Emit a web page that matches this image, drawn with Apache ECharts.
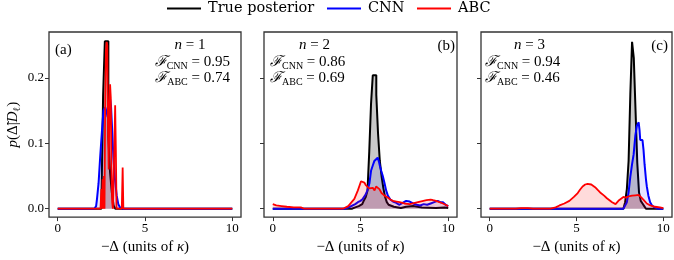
<!DOCTYPE html>
<html><head><meta charset="utf-8">
<script src="https://cdn.jsdelivr.net/npm/echarts@6/dist/echarts.min.js"></script>
<style>html,body{margin:0;padding:0;background:#fff}#c{width:674px;height:260px}</style>
</head><body><div id="c"></div>
<script>
// ---------- data (x in units of kappa, y = probability) ----------
const seriesNames = ['True posterior', 'CNN', 'ABC'];
const panelLabels = ['(a)', '(b)', '(c)'];
const panelN = [1, 2, 3];
const fidCNN = ['0.95', '0.86', '0.94'];
const fidABC = ['0.74', '0.69', '0.46'];
const xTicks = [0, 5, 10];
const yTicks = [0, 0.1, 0.2];

// True posterior histograms: [bin left edge, height]
const trueA = [[0,0],[2.5,0.005],[2.6,0.173],[2.7,0.256],[2.8,0.256],[2.9,0.11],[3.0,0.055],[3.1,0.025],[3.2,0.005],[3.3,0],[10,0]];
const trueB = [[0,0],[4.5,0.002],[4.7,0.003],[4.8,0.004],[4.9,0.005],[5.0,0.007],[5.1,0.01],[5.2,0.013],[5.3,0.018],[5.4,0.028],[5.5,0.088],[5.6,0.16],[5.7,0.204],[5.8,0.204],[5.9,0.174],[6.0,0.115],[6.1,0.073],[6.2,0.05],[6.3,0.032],[6.4,0.018],[6.5,0.01],[6.6,0.006],[6.7,0.003],[6.9,0.001],[7.3,0.003],[7.6,0.004],[8.0,0.002],[8.5,0.001],[9.3,0.002],[9.8,0.001],[10,0]];
const trueC = [[0,0],[7.7,0.002],[7.8,0.01],[7.9,0.03],[8.0,0.073],[8.1,0.175],[8.2,0.255],[8.3,0.23],[8.4,0.15],[8.5,0.07],[8.6,0.025],[8.7,0.012],[8.8,0.008],[8.9,0.004],[9.0,0],[10,0]];

// CNN posteriors
const cnnA = [[0,0],[2.1,0],[2.2,0.004],[2.25,0.015],[2.34,0.039],[2.43,0.078],[2.53,0.117],[2.62,0.15],[2.72,0.155],[2.8,0.148],[2.86,0.14],[2.93,0.158],[3.0,0.168],[3.05,0.158],[3.12,0.12],[3.19,0.078],[3.28,0.045],[3.38,0.02],[3.47,0.007],[3.57,0.002],[3.7,0],[10,0]];
const cnnB = [[0,0],[4.1,0],[4.4,0.003],[4.7,0.007],[4.85,0.01],[5.0,0.012],[5.13,0.015],[5.3,0.022],[5.42,0.03],[5.51,0.039],[5.6,0.058],[5.7,0.066],[5.79,0.073],[5.9,0.075],[5.98,0.078],[6.05,0.072],[6.1,0.066],[6.18,0.058],[6.27,0.05],[6.37,0.039],[6.46,0.028],[6.56,0.02],[6.7,0.014],[6.85,0.011],[7.04,0.009],[7.2,0.006],[7.4,0.009],[7.6,0.012],[7.8,0.011],[8.0,0.008],[8.2,0.006],[8.4,0.005],[8.6,0.007],[8.8,0.006],[9.0,0.008],[9.2,0.01],[9.4,0.012],[9.55,0.01],[9.7,0.01],[9.85,0.006],[10,0.004]];
const cnnC = [[0,0],[7.7,0],[7.78,0.002],[7.9,0.01],[8.0,0.025],[8.1,0.049],[8.2,0.068],[8.29,0.083],[8.39,0.112],[8.48,0.127],[8.58,0.132],[8.63,0.12],[8.67,0.105],[8.73,0.108],[8.8,0.105],[8.86,0.09],[8.92,0.068],[9.0,0.045],[9.05,0.034],[9.14,0.02],[9.24,0.01],[9.35,0.005],[9.5,0.002],[9.7,0],[10,0]];

// ABC posteriors
const abcA = [[0,0],[2.45,0],[2.5,0.03],[2.53,0],[2.57,0.045],[2.6,0],[2.64,0.05],[2.68,0],[2.72,0.17],[2.76,0.24],[2.8,0.255],[2.84,0.25],[2.88,0.13],[2.92,0.06],[2.96,0.15],[3.0,0.19],[3.04,0.17],[3.08,0.06],[3.12,0.01],[3.16,0],[3.2,0],[3.25,0.1],[3.29,0.158],[3.33,0.09],[3.37,0],[3.67,0],[3.72,0.063],[3.76,0],[10,0]];
const abcB = [[0,0.007],[0.2,0.005],[0.5,0.004],[0.8,0.003],[1.2,0.002],[1.6,0.002],[1.8,0],[4.0,0],[4.3,0.004],[4.65,0.015],[4.85,0.028],[5.03,0.042],[5.12,0.043],[5.22,0.04],[5.3,0.036],[5.41,0.034],[5.5,0.031],[5.6,0.029],[5.7,0.032],[5.8,0.028],[5.89,0.034],[6.0,0.031],[6.08,0.03],[6.2,0.024],[6.37,0.02],[6.55,0.017],[6.7,0.014],[6.85,0.012],[7.05,0.011],[7.23,0.01],[7.5,0.008],[7.8,0.007],[8.1,0.009],[8.4,0.011],[8.76,0.013],[9.0,0.014],[9.14,0.013],[9.3,0.012],[9.5,0.01],[9.7,0.008],[9.85,0.006],[10,0.004]];
const abcC = [[0,0],[1.5,0],[1.8,0.001],[2.2,0.001],[2.5,0],[3.5,0],[3.8,0.002],[4.02,0.005],[4.3,0.008],[4.59,0.012],[4.85,0.018],[5.07,0.024],[5.2,0.029],[5.35,0.034],[5.5,0.037],[5.64,0.038],[5.75,0.036],[5.85,0.037],[5.95,0.034],[6.11,0.032],[6.25,0.028],[6.4,0.024],[6.59,0.02],[6.75,0.016],[6.9,0.013],[7.05,0.01],[7.15,0.008],[7.25,0.007],[7.35,0.01],[7.45,0.013],[7.54,0.016],[7.7,0.018],[7.85,0.017],[8.0,0.019],[8.2,0.02],[8.39,0.0205],[8.58,0.021],[8.7,0.018],[8.85,0.014],[9.05,0.008],[9.25,0.005],[9.53,0.003],[9.8,0.002],[10,0.001]];

// ---------- chart ----------
const FONT = '"Liberation Serif", "DejaVu Serif", serif';
const LFONT = '"DejaVu Serif", serif';
const trueSets = [trueA, trueB, trueC];
const cnnSets = [cnnA, cnnB, cnnC];
const abcSets = [abcA, abcB, abcC];
const grids = [
  {left: 49, top: 32, width: 192, height: 193},
  {left: 264, top: 32, width: 193, height: 193},
  {left: 481, top: 32, width: 191, height: 193}
];
const rich = {
  i: {fontFamily: FONT, fontStyle: 'italic', fontSize: 15, lineHeight: 18},
  f: {fontFamily: FONT, fontStyle: 'italic', fontSize: 15, lineHeight: 18},
  s: {fontFamily: FONT, fontSize: 10, lineHeight: 10, verticalAlign: 'bottom'},
  t: {fontFamily: FONT, fontSize: 15, lineHeight: 18}
};

const xAxes = [], yAxes = [], series = [];
grids.forEach((g, k) => {
  xAxes.push({
    type: 'value', gridIndex: k, min: -0.5, max: 10.5,
    name: '{t|\u2212Δ (units of }{i|κ}{t|)}', nameLocation: 'middle', nameGap: 19,
    nameTextStyle: {fontFamily: FONT, fontSize: 15, color: '#000', rich: rich},
    axisLine: {show: false, onZero: false}, splitLine: {show: false},
    axisTick: {show: true, customValues: xTicks, length: 4, lineStyle: {color: '#333', width: 1}},
    axisLabel: {customValues: xTicks, fontFamily: FONT, fontSize: 13, color: '#000', margin: 5}
  });
  yAxes.push({
    type: 'value', gridIndex: k, min: -0.0128, max: 0.27,
    name: k === 0 ? '{i|p}{t|(Δ̃|}{i|D}{s|ℓ}{t|)}' : '', nameLocation: 'middle', nameGap: 27, nameRotate: 90,
    nameTextStyle: {fontFamily: FONT, fontSize: 15, color: '#000', rich: rich},
    axisLine: {show: false, onZero: false}, splitLine: {show: false},
    axisTick: {show: true, customValues: yTicks, length: 4, lineStyle: {color: '#333', width: 1}},
    axisLabel: {show: k === 0, customValues: yTicks, fontFamily: FONT, fontSize: 13, color: '#000', margin: 5,
      formatter: v => v.toFixed(1)}
  });
  series.push({
    name: seriesNames[0], type: 'line', xAxisIndex: k, yAxisIndex: k, step: 'end',
    data: trueSets[k], showSymbol: false, symbol: 'none', color: '#000',
    lineStyle: {color: '#000', width: 2}, areaStyle: {color: 'rgba(0,0,0,0.3)', origin: 'auto'}, z: 2
  });
  series.push({
    name: seriesNames[1], type: 'line', xAxisIndex: k, yAxisIndex: k,
    data: cnnSets[k], showSymbol: false, symbol: 'none', color: '#0000ff',
    lineStyle: {color: '#0000ff', width: 2}, areaStyle: {color: 'rgba(0,0,255,0.14)', origin: 'auto'}, z: 3
  });
  series.push({
    name: seriesNames[2], type: 'line', xAxisIndex: k, yAxisIndex: k,
    data: abcSets[k], showSymbol: false, symbol: 'none', color: '#ff0000',
    lineStyle: {color: '#ff0000', width: 1.8}, areaStyle: {color: 'rgba(255,0,0,0.2)', origin: 'auto'}, z: 4
  });
});

const legendPos = [167, 327, 417];
const legends = seriesNames.map((nm, i) => ({
  data: [nm], left: legendPos[i], top: 1, padding: 0, itemWidth: 34, itemHeight: 2, icon: 'rect',
  selectedMode: false, textStyle: {fontFamily: LFONT, fontSize: 14.5, color: '#000', padding: [0, 0, 0, 2]}
}));

function txt(x, y, text, align) {
  return {type: 'text', x: x, y: y, silent: true,
    style: {text: text, rich: rich, fontFamily: FONT, fontSize: 15, fill: '#000', align: align, verticalAlign: 'middle'}};
}
const fRow = (v, name) => '{f|ℱ}{s|' + name + '}{t| = ' + v + '}';
const graphic = [
  txt(55, 50, '{t|' + panelLabels[0] + '}', 'left'),
  txt(190, 45, '{i|n}{t| = ' + panelN[0] + '}', 'center'),
  txt(230, 62, fRow(fidCNN[0], 'CNN'), 'right'),
  txt(230, 78, fRow(fidABC[0], 'ABC'), 'right'),
  txt(455, 46, '{t|' + panelLabels[1] + '}', 'right'),
  txt(314.5, 45, '{i|n}{t| = ' + panelN[1] + '}', 'center'),
  txt(270, 62, fRow(fidCNN[1], 'CNN'), 'left'),
  txt(270, 78, fRow(fidABC[1], 'ABC'), 'left'),
  txt(668, 46, '{t|' + panelLabels[2] + '}', 'right'),
  txt(529.5, 45, '{i|n}{t| = ' + panelN[2] + '}', 'center'),
  txt(485, 62, fRow(fidCNN[2], 'CNN'), 'left'),
  txt(485, 78, fRow(fidABC[2], 'ABC'), 'left')
];

const chart = echarts.init(document.getElementById('c'), null, {renderer: 'canvas'});
chart.setOption({
  animation: false,
  backgroundColor: '#fff',
  legend: legends,
  grid: grids.map(g => Object.assign({show: true, borderColor: '#333', borderWidth: 1.3, backgroundColor: 'transparent'}, g)),
  xAxis: xAxes, yAxis: yAxes, series: series, graphic: graphic
});
</script></body></html>
